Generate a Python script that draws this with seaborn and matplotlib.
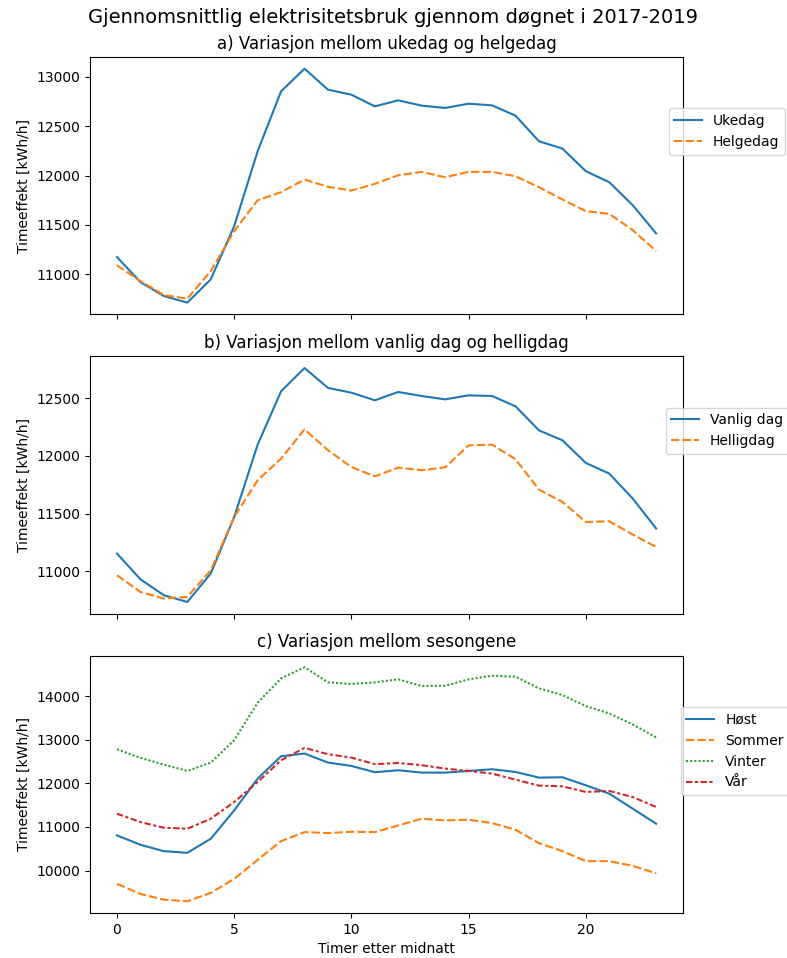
import numpy as np
import pandas as pd
import matplotlib
matplotlib.use("Agg")
import matplotlib.pyplot as plt
from matplotlib.ticker import MultipleLocator
import seaborn as sns

hours = list(range(24))

ukedag = [11175, 10922, 10781, 10714, 10950, 11488, 12246, 12852, 13081, 12869, 12818, 12700,
          12761, 12707, 12684, 12727, 12710, 12606, 12347, 12273, 12044, 11933, 11700, 11414]
helgedag = [11091, 10933, 10791, 10754, 11034, 11438, 11751, 11832, 11960, 11886, 11848, 11916,
            12003, 12037, 11983, 12037, 12037, 11993, 11882, 11758, 11640, 11613, 11448, 11236]

vanlig_dag = [11153, 10930, 10791, 10733, 10980, 11471, 12098, 12561, 12763, 12590, 12549, 12483,
              12555, 12520, 12491, 12526, 12520, 12431, 12222, 12136, 11939, 11847, 11630, 11370]
helligdag = [10965, 10820, 10763, 10777, 11008, 11471, 11789, 11977, 12231, 12049, 11904, 11823,
             11899, 11876, 11902, 12092, 12098, 11971, 11708, 11601, 11427, 11433, 11318, 11210]

host = [10805, 10590, 10444, 10406, 10728, 11379, 12107, 12621, 12682, 12475, 12398, 12253,
        12299, 12245, 12245, 12283, 12322, 12261, 12130, 12138, 11954, 11762, 11418, 11073]
sommer = [9694, 9464, 9333, 9295, 9487, 9809, 10245, 10674, 10881, 10858, 10889, 10881,
          11034, 11188, 11149, 11165, 11088, 10935, 10628, 10444, 10215, 10215, 10107, 9939]
vinter = [12782, 12582, 12429, 12283, 12475, 12989, 13847, 14406, 14659, 14314, 14276, 14314,
          14383, 14230, 14237, 14383, 14467, 14444, 14176, 14023, 13770, 13602, 13349, 13051]
var = [11303, 11111, 10981, 10958, 11188, 11571, 12030, 12529, 12812, 12667, 12590, 12437,
       12467, 12414, 12337, 12283, 12222, 12084, 11946, 11931, 11801, 11824, 11686, 11456]

title = "Gjennomsnittlig elektrisitetsbruk gjennom døgnet i 2017-2019"
subtitles = ["a) Variasjon mellom ukedag og helgedag",
             "b) Variasjon mellom vanlig dag og helligdag",
             "c) Variasjon mellom sesongene"]
ylabel = "Timeeffekt [kWh/h]"
xlabel = "Timer etter midnatt"
y_steps = [500, 500, 1000]

groups = [
    {"Ukedag": ukedag, "Helgedag": helgedag},
    {"Vanlig dag": vanlig_dag, "Helligdag": helligdag},
    {"Høst": host, "Sommer": sommer, "Vinter": vinter, "Vår": var},
]

plt.rcParams.update(plt.rcParamsDefault)
fig, axes = plt.subplots(3, 1, figsize=(7.87, 9.58), dpi=100, sharex=True)
fig.subplots_adjust(left=0.1144, right=0.868, top=0.9405, bottom=0.047, hspace=0.163)

legend_x = [1.172, 1.178, 1.179]
for ax, grp, sub, lx, step in zip(axes, groups, subtitles, legend_x, y_steps):
    rows = []
    for name, vals in grp.items():
        for h, v in zip(hours, vals):
            rows.append({"hour": h, "value": v, "kategori": name})
    df = pd.DataFrame(rows)
    order = list(grp.keys())
    sns.lineplot(data=df, x="hour", y="value", hue="kategori", style="kategori",
                 hue_order=order, style_order=order, ax=ax)
    ax.set_title(sub, fontsize=12)
    ax.set_ylabel(ylabel)
    ax.set_xlabel("")
    ax.yaxis.set_major_locator(MultipleLocator(step))
    handles, labels = ax.get_legend_handles_labels()
    ax.legend(handles, labels, loc="upper right", bbox_to_anchor=(lx, 0.80),
              borderaxespad=0)

axes[2].set_xlabel(xlabel)
axes[2].set_xticks([0, 5, 10, 15, 20])
fig.suptitle(title, fontsize=14, y=0.992)

fig.savefig("out.png", dpi=100)
